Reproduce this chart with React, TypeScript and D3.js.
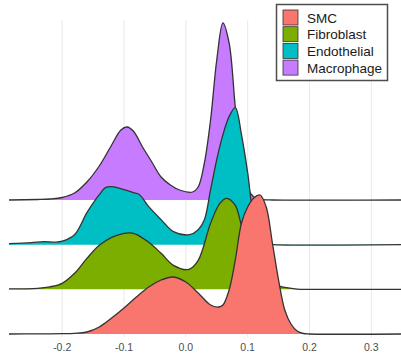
import React from "react";
import * as d3 from "d3";

const categories = ["SMC", "Fibroblast", "Endothelial", "Macrophage"];
const colors = ["#F8766D", "#7CAE00", "#00BFC4", "#C77CFF"];
const xTicks = [-0.2, -0.1, 0.0, 0.1, 0.2, 0.3];
const xTickLabels = ["-0.2", "-0.1", "0.0", "0.1", "0.2", "0.3"];

// [x, density] pairs
const smcDensity: [number, number][] = [
  [-0.286, 0], [-0.24, 0.01], [-0.2, 0.03], [-0.18, 0.07], [-0.16, 0.2], [-0.14, 0.7],
  [-0.12, 1.6], [-0.1, 2.6], [-0.08, 3.7], [-0.06, 4.7], [-0.04, 5.4], [-0.02, 5.7],
  [0.0, 5.2], [0.02, 4.1], [0.04, 2.9], [0.053, 2.7], [0.06, 2.9], [0.07, 4.4],
  [0.08, 7.4], [0.09, 11.1], [0.1, 12.7], [0.11, 13.6], [0.12, 13.9], [0.13, 12.7],
  [0.14, 9.1], [0.15, 5.4], [0.16, 2.4], [0.17, 1.0], [0.18, 0.3], [0.19, 0.05],
  [0.2, 0], [0.348, 0],
];
const fibroblastDensity: [number, number][] = [
  [-0.286, 0.05], [-0.24, 0.1], [-0.22, 0.25], [-0.2, 0.6], [-0.18, 1.6], [-0.16, 3.1],
  [-0.14, 4.4], [-0.12, 5.2], [-0.1, 5.6], [-0.09, 5.65], [-0.08, 5.5], [-0.06, 4.7],
  [-0.04, 3.6], [-0.02, 2.4], [0.005, 2.0], [0.02, 2.9], [0.04, 6.6], [0.055, 8.6],
  [0.066, 9.1], [0.08, 8.4], [0.09, 6.4], [0.1, 4.9], [0.11, 3.0], [0.12, 1.5],
  [0.13, 0.8], [0.145, 0.4], [0.16, 0.2], [0.18, 0.03], [0.2, 0], [0.348, 0],
];
const endothelialDensity: [number, number][] = [
  [-0.286, 0.1], [-0.25, 0.2], [-0.23, 0.3], [-0.21, 0.25], [-0.2, 0.35], [-0.18, 1.0],
  [-0.16, 3.2], [-0.14, 5.0], [-0.13, 5.7], [-0.12, 5.8], [-0.1, 5.5], [-0.085, 5.2],
  [-0.075, 5.0], [-0.06, 3.8], [-0.04, 2.5], [-0.02, 1.3], [0.006, 1.0], [0.02, 1.5],
  [0.03, 2.5], [0.04, 5.5], [0.05, 8.5], [0.06, 11.0], [0.07, 12.8], [0.08, 13.7],
  [0.09, 11.0], [0.1, 7.2], [0.11, 2.5], [0.12, 0.5], [0.13, 0.08], [0.14, 0], [0.348, 0],
];
const macrophageDensity: [number, number][] = [
  [-0.286, 0], [-0.24, 0.05], [-0.22, 0.1], [-0.2, 0.25], [-0.18, 0.7], [-0.16, 1.8],
  [-0.14, 3.4], [-0.12, 5.5], [-0.105, 7.0], [-0.095, 7.3], [-0.085, 6.9], [-0.07, 5.3],
  [-0.055, 3.8], [-0.04, 2.3], [-0.025, 1.5], [-0.01, 1.0], [0.011, 0.8], [0.02, 1.3],
  [0.03, 3.7], [0.04, 8.0], [0.05, 14.0], [0.06, 17.7], [0.07, 15.7], [0.08, 9.3],
  [0.09, 4.0], [0.1, 1.2], [0.11, 0.3], [0.12, 0.05], [0.14, 0], [0.348, 0],
];
const densities = [smcDensity, fibroblastDensity, endothelialDensity, macrophageDensity];

const W = 401;
const H = 358;

export default function App() {
  const x = d3.scaleLinear().domain([-0.286, 0.348]).range([9, 401]);
  const yBase = d3.scalePoint<string>().domain(categories).range([334, 200]);
  const h = d3.scaleLinear().domain([0, 1]).range([0, 10]);

  const drawOrder = [3, 2, 1, 0];
  const curve = d3.curveCatmullRom.alpha(0.5);

  return (
    <div style={{ position: "absolute", left: 0, top: 0 }}>
      <svg width={W} height={H} style={{ display: "block", fontFamily: "'Liberation Sans', Arial, sans-serif" }}>
        <rect width={W} height={H} fill="#ffffff" />
        {xTicks.map((t, i) => (
          <line key={"g" + i} x1={x(t)} x2={x(t)} y1={20} y2={337} stroke="#EBEBEB" strokeWidth={1.1} />
        ))}
        {drawOrder.map((i) => {
          const base = yBase(categories[i]) as number;
          const area = d3
            .area<[number, number]>()
            .x((d) => x(d[0]))
            .y0(base)
            .y1((d) => base - h(d[1]))
            .curve(curve);
          const line = d3
            .line<[number, number]>()
            .x((d) => x(d[0]))
            .y((d) => base - h(d[1]))
            .curve(curve);
          return (
            <g key={categories[i]}>
              <path d={area(densities[i]) || ""} fill={colors[i]} stroke="none" />
              <path d={line(densities[i]) || ""} fill="none" stroke="#333333" strokeWidth={1.3} />
            </g>
          );
        })}
        {xTicks.map((t, i) => (
          <text key={"t" + i} x={x(t)} y={351} textAnchor="middle" fontSize={10.5} fill="#4D4D4D">
            {xTickLabels[i]}
          </text>
        ))}
        <g>
          <rect x={276.5} y={4.5} width={111} height={76} fill="#ffffff" stroke="#4d4d4d" strokeWidth={1.5} />
          {categories.map((c, i) => (
            <g key={"l" + c}>
              <rect x={283} y={10 + i * 16.7} width={15} height={15} fill={colors[i]} stroke="#333333" strokeWidth={0.8} />
              <text x={307} y={22.5 + i * 16.7} fontSize={13.5} fill="#1a1a1a">
                {c}
              </text>
            </g>
          ))}
        </g>
      </svg>
    </div>
  );
}
